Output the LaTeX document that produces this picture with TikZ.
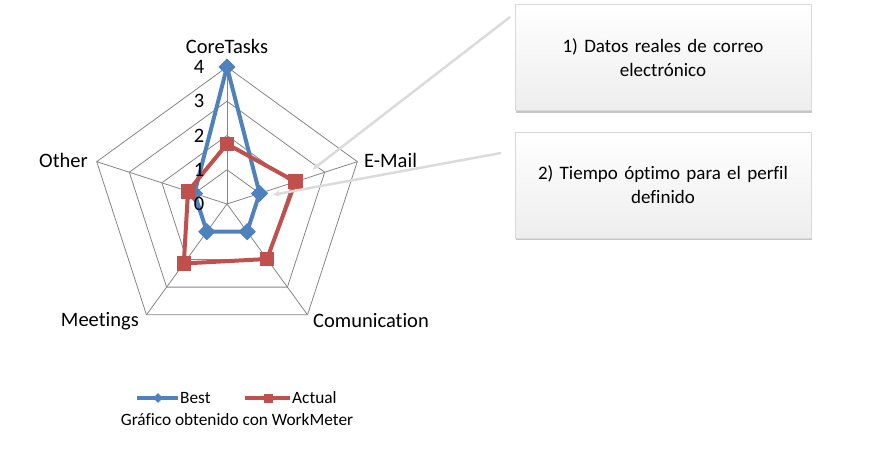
\documentclass[tikz,border=0pt]{standalone}
\usepackage{fontspec}
\setmainfont{Carlito}[Ligatures={NoCommon}]
\usetikzlibrary{shapes.geometric,arrows.meta,shadows,positioning}
\definecolor{bestblue}{HTML}{4F81BD}
\definecolor{actualred}{HTML}{C0504D}
\definecolor{gridgray}{HTML}{868686}
\tikzset{
  gridline/.style={draw=gridgray, line width=0.8pt},
  bestline/.style={draw=bestblue, line width=4pt, line join=round},
  actualline/.style={draw=actualred, line width=4pt, line join=round},
  bestmark/.style={diamond, fill=bestblue, minimum size=17pt, inner sep=0pt},
  actualmark/.style={rectangle, fill=actualred, minimum size=14.5pt, inner sep=0pt},
  axislabel/.style={font=\fontsize{20.5}{24}\selectfont, inner sep=0pt},
  ticklabel/.style={font=\fontsize{20.5}{24}\selectfont, inner sep=0pt},
  legendtext/.style={font=\fontsize{17.3}{20}\selectfont, inner sep=0pt},
  notebox/.style={draw=gray!30, top color=white, bottom color=gray!14,
    minimum width=296pt, minimum height=106pt, text width=280pt, align=center,
    font=\fontsize{19}{24}\selectfont,
    drop shadow={shadow xshift=0.5pt, shadow yshift=-2.5pt, opacity=0.45, fill=gray}},
  pointer/.style={draw=gray!28, line width=2.5pt, -{Latex[length=7pt,width=6pt]}}
}
\begin{document}
\begin{tikzpicture}[x=1pt,y=1pt]
  \useasboundingbox (0,0) rectangle (880,455);
  \begin{scope}[shift={(227,251)}]
    % Grid rings and spokes
    \foreach \r in {34.25,68.5,102.75,137}
      \draw[gridline] (90:\r) -- (18:\r) -- (-54:\r) -- (-126:\r) -- (162:\r) -- cycle;
    \foreach \a in {90,18,-54,-126,162}
      \draw[gridline] (0,0) -- (\a:137);
    % Best
    \node[bestmark] (b1) at (90:137) {};
    \node[bestmark] (b2) at (18:34.25) {};
    \node[bestmark] (b3) at (-54:34.25) {};
    \node[bestmark] (b4) at (-126:34.25) {};
    \node[bestmark] (b5) at (162:34.25) {};
    \draw[bestline] (b1.center) -- (b2.center) -- (b3.center) -- (b4.center) -- (b5.center) -- cycle;
    \foreach \p in {b1,b2,b3,b4,b5}
      \node[bestmark] at (\p) {};
    % Actual
    \node[actualmark] (a1) at (90:60) {};
    \node[actualmark] (a2) at (18:72) {};
    \node[actualmark] (a3) at (-54:68) {};
    \node[actualmark] (a4) at (-126:73.5) {};
    \node[actualmark] (a5) at (162:41) {};
    \draw[actualline] (a1.center) -- (a2.center) -- (a3.center) -- (a4.center) -- (a5.center) -- cycle;
    \foreach \p in {a1,a2,a3,a4,a5}
      \node[actualmark] at (\p) {};
  \end{scope}
  % Scale numbers
  \foreach \v in {0,...,4}
    \node[ticklabel] (n\v) at (199,251+34.25*\v) {\v};
  % Axis labels
  \node[axislabel] (core) at (227,409) {CoreTasks};
  \node[axislabel, anchor=west] (mail) at (364,295) {E-Mail};
  \node[axislabel, anchor=west] (comm) at (313,134) {Comunication};
  \node[axislabel, anchor=east] (meet) at (139,134) {Meetings};
  \node[axislabel, anchor=east] (other) at (88,295) {Other};
  % Notes
  \node[notebox] (note1) at (663,397.5) {1) Datos reales de correo\\electrónico};
  \node[notebox, below=21pt of note1] (note2) {2) Tiempo óptimo para el perfil\\definido};
  % Pointers
  \coordinate (p1) at (510,438);
  \coordinate (t1) at (312,285);
  \coordinate (p2) at (501,302);
  \coordinate (t2) at (272,260);
  \draw[pointer] (p1) -- (t1);
  \draw[pointer] (p2) -- (t2);
  % Legend
  \coordinate (lb0) at (137,57);
  \coordinate (lb1) at (178,57);
  \coordinate (la0) at (245,57);
  \coordinate (la1) at (290,57);
  \draw[bestline] (lb0) -- (lb1);
  \node[bestmark, minimum size=10pt] (lbest) at (158,57) {};
  \draw[actualline] (la0) -- (la1);
  \node[actualmark, minimum size=9pt] (lactual) at (268,57) {};
  \node[legendtext, anchor=west] (tbest) at (180,57) {Best};
  \node[legendtext, anchor=west] (tactual) at (292,57) {Actual};
  \node[legendtext] (caption) at (237,35) {Gráfico obtenido con WorkMeter};
\end{tikzpicture}
\end{document}
